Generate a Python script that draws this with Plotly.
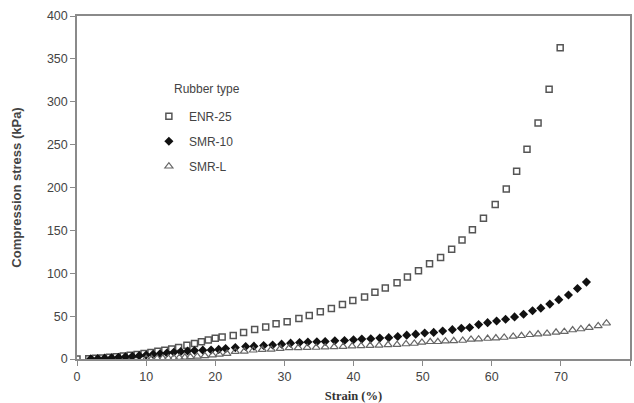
import plotly.graph_objects as go

# ENR-25 (open squares)
enr_x = [0, 1.7, 2.7, 3.7, 4.7, 5.7, 6.7, 7.7, 8.7, 9.7, 10.7, 11.7, 12.7, 13.7, 14.7,
         15.9, 17.0, 18.0, 19.0, 20.0, 21.0, 22.6, 24.1, 25.7, 27.3, 28.8, 30.4, 32.1,
         33.6, 35.2, 36.8, 38.4, 39.9, 41.6, 43.1, 44.6, 46.3, 47.8, 49.4, 51.0, 52.6,
         54.2, 55.7, 57.2, 58.8, 60.5, 62.1, 63.6, 65.1, 66.7, 68.3, 69.9]
enr_y = [0, 0.4, 0.8, 1.3, 1.9, 2.6, 3.4, 4.3, 5.3, 6.4, 7.6, 8.9, 10.3, 11.8, 13.4,
         16.0, 18.0, 20.0, 22.3, 24.3, 25.8, 27.5, 31.0, 34.5, 37.4, 41.0, 43.5, 47.2,
         50.7, 55.0, 59.0, 63.7, 68.1, 72.3, 77.9, 82.9, 88.8, 95.5, 103, 111, 118.4,
         127.9, 138.9, 150.6, 164, 180.2, 198.2, 218.9, 244.6, 275.3, 314.7, 363]

# SMR-10 (filled diamonds)
smr10_x = [2, 3, 4, 5, 6, 7, 8, 9, 10, 11, 12, 13, 14, 15, 16, 17, 18.2, 19.4, 20.5,
           21.5, 22.9, 24.4, 25.6, 27.0, 28.3, 29.6, 30.9, 32.2, 33.4, 34.7, 35.9, 37.3,
           38.7, 40.0, 41.2, 42.5, 43.8, 45.1, 46.4, 47.7, 49.0, 50.3, 51.6, 52.9, 54.3,
           55.6, 56.8, 58.1, 59.4, 60.7, 62.0, 63.3, 64.6, 65.9, 67.1, 68.4, 69.7, 71.1,
           72.4, 73.7]
smr10_y = [0.3, 0.6, 1.0, 1.5, 2.0, 2.6, 3.2, 3.9, 4.6, 5.4, 6.2, 7.0, 7.8, 8.6, 9.4,
           10.0, 10.3, 10.5, 11.2, 12.1, 13.3, 14.5, 15.0, 15.8, 16.3, 17.3, 18.5, 19.2,
           19.8, 20.1, 20.4, 21.2, 21.6, 22.5, 23.2, 23.6, 24.4, 24.9, 26.3, 27.8, 29.0,
           30.3, 31.0, 32.6, 34.2, 35.8, 36.8, 40.1, 42.4, 44.4, 46.3, 49.1, 52.2, 56.2,
           59.3, 64.0, 69.2, 74.7, 82.2, 89.7]

# SMR-L (open triangles)
smrl_x = [10.0, 10.8, 11.6, 12.4, 13.2, 14.0, 14.8, 15.6, 16.4, 17.4, 18.5, 19.6, 20.6,
          21.7, 22.9, 24.2, 25.5, 26.8, 28.1, 29.4, 30.7, 32.0, 33.3, 34.6, 35.9, 37.2,
          38.5, 39.8, 41.1, 42.4, 43.7, 45.0, 46.3, 47.6, 48.8, 49.9, 51.1, 52.2, 53.3,
          54.5, 55.8, 57.0, 58.1, 59.4, 60.6, 61.8, 63.1, 64.3, 65.5, 66.7, 68.0, 69.3,
          70.5, 71.7, 72.9, 74.1, 75.4, 76.6]
smrl_y = [0.2, 0.4, 0.6, 0.8, 1.0, 1.3, 1.6, 2.0, 2.4, 3.0, 3.6, 4.5, 5.4,
          6.3, 8.5, 9.0, 10.2, 11.0, 11.2, 12.2, 13.0, 13.0, 13.2, 13.4, 13.8, 14.2,
          14.4, 15.0, 15.2, 15.7, 15.9, 16.5, 16.7, 17.5, 18.1, 19.3, 20.1, 20.1, 20.8,
          21.2, 21.6, 22.8, 23.2, 23.9, 24.4, 25.1, 26.3, 27.1, 28.3, 29.1, 29.9, 31.1,
          31.9, 33.8, 35.0, 36.6, 38.6, 41.7]

x_ticks = [0, 10, 20, 30, 40, 50, 60, 70, 80]
y_ticks = [0, 50, 100, 150, 200, 250, 300, 350, 400]

ML, MR, MT, MB = 77, 4, 16, 44
W, H = 634, 403
pw = W - ML - MR
ph = H - MT - MB

fig = go.Figure()
fig.add_trace(go.Scatter(
    x=enr_x, y=enr_y, mode="markers", name="ENR-25", legendgroup="a",
    marker=dict(symbol="square-open", size=6, color="#555555", line=dict(width=1.5))))
fig.add_trace(go.Scatter(
    x=smr10_x, y=smr10_y, mode="markers", name="SMR-10", legendgroup="b",
    marker=dict(symbol="diamond", size=7, color="#111111")))
fig.add_trace(go.Scatter(
    x=smrl_x, y=smrl_y, mode="markers", name="SMR-L", legendgroup="c",
    marker=dict(symbol="triangle-up-open", size=7, color="#666666", line=dict(width=1.2))))

axis_common = dict(
    showline=True, linecolor="#8a8a8a", linewidth=1.5, mirror=True, automargin=False,
    ticks="outside", ticklen=5, tickcolor="#8a8a8a", showgrid=False, zeroline=False,
    tickfont=dict(family="Liberation Sans, Arial", size=12.5, color="#444444"),
)

fig.update_layout(
    width=W, height=H,
    margin=dict(l=ML, r=MR, t=MT, b=MB),
    paper_bgcolor="white", plot_bgcolor="white",
    showlegend=True,
    legend=dict(
        x=0.13, y=0.75, xanchor="left", yanchor="top",
        bgcolor="rgba(0,0,0,0)", borderwidth=0,
        font=dict(family="Liberation Sans, Arial", size=12, color="#444444"),
        traceorder="grouped", tracegroupgap=6, itemwidth=30,
    ),
    annotations=[dict(
        text="Rubber type", x=(172 - ML) / pw, y=(H - MB - 89) / ph,
        xref="paper", yref="paper", showarrow=False,
        font=dict(family="Liberation Sans, Arial", size=12, color="#444444"),
        xanchor="left", yanchor="middle",
    )],
    xaxis=dict(range=[0, 80], tickvals=x_ticks, ticktext=[str(v) for v in x_ticks],
               title=dict(text="<b>Strain (%)</b>", standoff=14,
                          font=dict(family="Liberation Serif, Times New Roman", size=12.5, color="#333333")),
               **axis_common),
    yaxis=dict(range=[0, 400], tickvals=y_ticks, ticktext=[str(v) for v in y_ticks],
               title=dict(text="<b>Compression stress (kPa)</b>", standoff=22,
                          font=dict(family="Liberation Sans, Arial", size=13, color="#444444")),
               **axis_common),
)

fig.write_html("out.html")
